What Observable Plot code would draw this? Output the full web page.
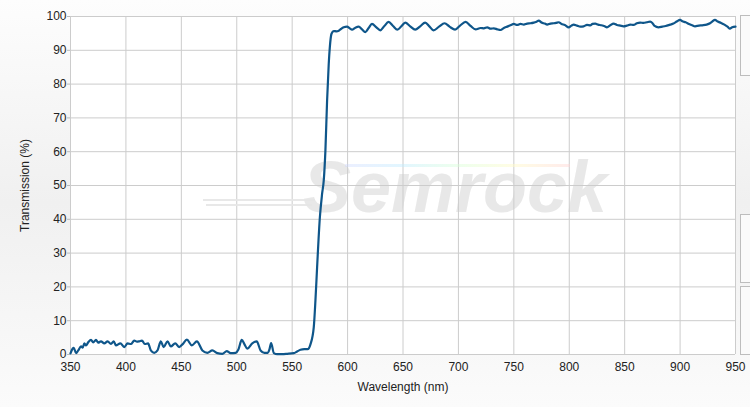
<!DOCTYPE html>
<html>
<head>
<meta charset="utf-8">
<script src="https://cdn.jsdelivr.net/npm/d3@7"></script>
<script src="https://cdn.jsdelivr.net/npm/@observablehq/plot@0.6"></script>
<style>
  html, body { margin: 0; padding: 0; }
  body {
    width: 750px; height: 407px; overflow: hidden; position: relative;
    background: linear-gradient(#fdfdfd 0%, #f0f0f0 50%, #fbfbfb 100%);
    font-family: "Liberation Sans", Arial, sans-serif;
  }
  #chart { position: absolute; left: 0; top: 0; }
  .panel { position: absolute; left: 740px; width: 12px; border: 1px solid #bdbdbd; border-right: none; background: #fafafa; box-sizing: border-box; }
  .stripe { position: absolute; height: 2px; pointer-events: none; }
</style>
</head>
<body>
<div id="chart"></div>
<div class="panel" style="top:15px;height:61px"></div>
<div class="panel" style="top:214px;height:69px"></div>
<div class="panel" style="top:286px;height:69px"></div>
<div class="stripe" style="left:203px;top:199px;width:112px;background:#e6e6e6;opacity:0.9"></div>
<div class="stripe" style="left:206px;top:204px;width:106px;background:#e6e6e6;opacity:0.9"></div>
<div class="stripe" style="left:345px;top:164px;width:225px;height:3px;background:linear-gradient(90deg,rgba(200,210,255,0.35),rgba(190,235,255,0.45),rgba(215,255,215,0.45),rgba(255,250,200,0.5),rgba(255,210,210,0.45));"></div>
<script>
const wavelength = [
  350,352,353,355,357,359.5,361,362.5,364,366,368.5,370.5,373,375,377.5,380.5,383.5,386.5,389,391,
  395,398.5,401.5,404.5,407.5,410,412,414.5,417,420,422.5,425.5,428.5,431.5,434,437.5,440.5,444.5,448,451,
  455,459.5,464,469,473.5,478,482.5,487,491,494.5,499,501.5,504.5,507,509.5,514,518,521.5,525,528,
  529.5,531,533.5,536.5,541,545.5,551.5,554.5,557.5,561,564,566.5,569.5,571,572.5,575,577,578.5,580,581.5,
  583,584,585.5,587.5,590,592,594,596.5,599.5,602,604,607,610,613,616,619,622,626,629.5,633,
  637,641,645,648.5,652,656.5,661,665.5,670,674,677.5,682.5,687.5,692,697,701.5,706.5,711,715.5,720,
  723,726,729,732,735,738,741,744,747,750,753,756,759,762,765,768,770,772.5,775,778,
  780,783,786,788,790.5,793,796,799.5,802,804,807,810,813,816,819,821,823.5,826,829,832,
  834,837,840,843,846,849,852,855,858,861,864,867,870,873,875,877,880.5,884,887,891,
  894,897,900,902,905,908,911,913.5,917,920,924,927,929,931.5,934,937,940,943,945,947,950
];
const transmission = [
  0.3,1.8,2.0,0.4,1.2,2.4,2.0,3.3,2.7,3.6,4.3,3.6,4.3,3.5,3.9,3.3,3.9,3.1,3.9,2.7,
  3.3,2.2,3.3,3.1,4.1,3.8,3.9,4.1,3.1,3.3,1.2,0.5,1.2,3.9,2.2,3.9,2.4,3.3,2.2,3.0,
  4.4,2.7,3.9,1.2,0.5,1.2,0.4,0.2,1.0,0.4,0.5,1.5,4.3,3.0,1.7,3.3,3.9,1.2,0.5,0.5,
  1.5,3.4,0.4,0.1,0.1,0.2,0.4,0.9,1.4,1.6,1.6,3.0,8.1,16,25.8,40.6,47.5,51.5,60.4,75,
  86,91,94.9,95.7,95.6,95.8,96.3,96.8,97.0,96.5,96.1,96.7,97.0,96.2,95.4,96.6,97.8,96.8,95.9,97.1,
  98.4,97.2,96.1,97.1,98.2,97.1,96.1,97.1,98.2,97.0,95.9,97.0,98.0,97.0,96.1,97.3,98.4,97.2,96.2,96.6,
  96.5,96.8,96.4,96.5,96.2,96.0,96.6,97.0,97.4,97.8,97.5,97.8,97.6,97.9,98.0,98.2,98.4,98.8,98.2,97.9,
  97.6,97.9,98.0,98.1,98.3,97.8,97.5,96.8,97.3,97.6,97.3,97.0,97.1,97.5,97.4,97.8,97.9,97.6,97.4,97.1,
  96.8,97.4,97.9,97.5,97.3,97.1,97.3,97.6,97.5,98.0,98.2,98.1,98.3,98.5,98.1,97.2,96.8,97.0,97.2,97.6,
  97.9,98.5,99.0,98.6,98.3,97.8,97.4,97.1,97.3,97.4,97.6,98.0,98.5,99.0,98.5,98.1,97.6,96.9,96.4,96.8,97.0
];
const xTicks = [350,400,450,500,550,600,650,700,750,800,850,900,950];
const yTicks = [0,10,20,30,40,50,60,70,80,90,100];
const watermark = ["Semrock"];

const data = wavelength.map((w, i) => ({w, t: transmission[i]}));

const chart = Plot.plot({
  width: 750,
  height: 407,
  marginLeft: 70,
  marginRight: 15,
  marginTop: 16,
  marginBottom: 53,
  style: {background: "transparent", fontFamily: "Liberation Sans, Arial, sans-serif", fontSize: "12px", color: "#222"},
  x: {domain: [350, 950]},
  y: {domain: [0, 100]},
  marks: [
    Plot.frame({fill: "white", stroke: null}),
    Plot.text(watermark, {text: d => d, frameAnchor: "middle", dx: 52, dy: 3, fontSize: 72, fontWeight: "bold", fontStyle: "italic", fill: "#e6e6e6", fillOpacity: 0.9}),
    Plot.gridX(xTicks, {stroke: "#cccccc", strokeOpacity: 1, strokeWidth: 1}),
    Plot.gridY(yTicks, {stroke: "#cccccc", strokeOpacity: 1, strokeWidth: 1}),
    Plot.axisX(xTicks, {tickSize: 0, tickPadding: 8, label: "Wavelength (nm)", labelAnchor: "center", labelOffset: 36, labelArrow: "none", fill: "#222", fontSize: 12}),
    Plot.axisY(yTicks, {tickSize: 3, tickPadding: 1, stroke: "#bbbbbb", label: "Transmission (%)", labelAnchor: "center", labelOffset: 50, labelArrow: "none", fill: "#222", fontSize: 12}),
    Plot.line(data, {x: "w", y: "t", stroke: "#0f568a", strokeWidth: 2.2, curve: "monotone-x"})
  ]
});
document.getElementById("chart").appendChild(chart);
</script>
</body>
</html>
